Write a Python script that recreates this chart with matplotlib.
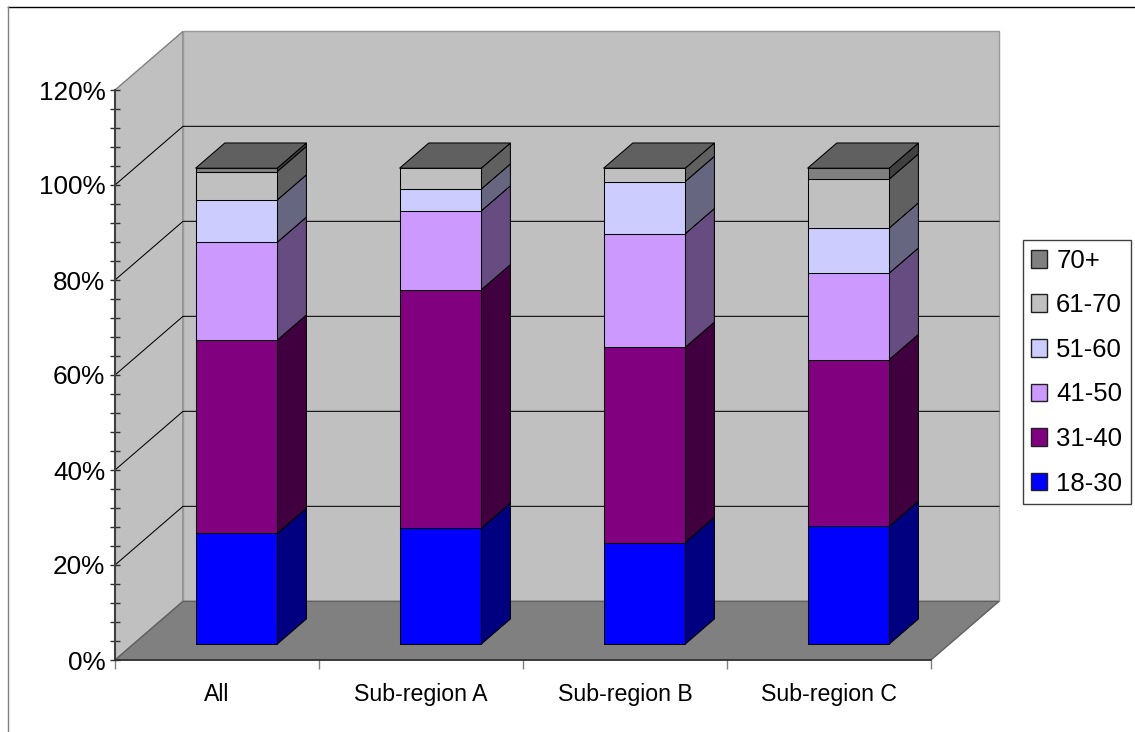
"""Stacked age-band shares per sub-region, drawn as oblique 3D columns."""

import matplotlib
matplotlib.use("Agg")
import matplotlib.pyplot as plt
from matplotlib.lines import Line2D
from matplotlib.patches import Patch

plt.rcParams["font.family"] = ["Liberation Sans", "DejaVu Sans"]

categories = ["All", "Sub-region A", "Sub-region B", "Sub-region C"]
age_bands = ["18-30", "31-40", "41-50", "51-60", "61-70", "70+"]

share_18_30 = [23.3, 24.4, 21.4, 24.8]
share_31_40 = [40.7, 50.2, 41.1, 35.1]
share_41_50 = [20.6, 16.6, 23.9, 18.2]
share_51_60 = [8.9, 4.6, 11.0, 9.5]
share_61_70 = [6.0, 4.4, 2.8, 10.3]
share_70_up = [0.7, 0.0, 0.0, 2.3]
series = [share_18_30, share_31_40, share_41_50, share_51_60, share_61_70, share_70_up]

front_colors = ["#0000ff", "#800080", "#cc99ff", "#ccccff", "#c0c0c0", "#808080"]
side_colors = ["#000080", "#400040", "#664c80", "#666680", "#606060", "#404040"]
top_color = "#606060"

# oblique projection: depth 0..1 shifts a point by this much in data units
DEPTH_X = 1 / 3
DEPTH_Y = 12.35
BAR_WIDTH = 0.4
BAR_NEAR = 0.27
BAR_FAR = 0.70
Y_MAX = 120

W, H = 1135, 732


def project(x, v, depth=0.0):
    return x + depth * DEPTH_X, v + depth * DEPTH_Y


def face(ax, corners, color, edge="black", lw=0.75, zorder=3):
    xs, ys = zip(*[project(*c) for c in corners])
    ax.fill(xs, ys, facecolor=color, edgecolor=edge, linewidth=lw,
            zorder=zorder, clip_on=False)


def draw_walls(ax):
    n = len(categories)
    face(ax, [(0, 0, 0), (0, 0, 1), (0, Y_MAX, 1), (0, Y_MAX, 0)],
         "#c0c0c0", edge="#808080", lw=1, zorder=1)
    face(ax, [(0, 0, 1), (n, 0, 1), (n, Y_MAX, 1), (0, Y_MAX, 1)],
         "#c0c0c0", edge="#999999", lw=1, zorder=1)
    face(ax, [(0, 0, 0), (n, 0, 0), (n, 0, 1), (0, 0, 1)],
         "#808080", edge="#606060", lw=1, zorder=1)
    for v in range(20, Y_MAX, 20):
        xs, ys = zip(project(0, v, 0), project(0, v, 1), project(n, v, 1))
        ax.plot(xs, ys, color="black", lw=0.75, zorder=2, clip_on=False)


def draw_column(ax, i):
    left = i + 0.5 - BAR_WIDTH / 2 + 0.005
    right = left + BAR_WIDTH
    base = 0.0
    for values, front, side in zip(series, front_colors, side_colors):
        top = base + values[i]
        if values[i] > 0:
            face(ax, [(right, base, BAR_NEAR), (right, base, BAR_FAR),
                      (right, top, BAR_FAR), (right, top, BAR_NEAR)], side)
            face(ax, [(left, base, BAR_NEAR), (right, base, BAR_NEAR),
                      (right, top, BAR_NEAR), (left, top, BAR_NEAR)], front)
        base = top
    face(ax, [(left, base, BAR_NEAR), (right, base, BAR_NEAR),
              (right, base, BAR_FAR), (left, base, BAR_FAR)], top_color)


fig = plt.figure(figsize=(W / 100, H / 100), dpi=100)
ax = fig.add_axes([115 / W, (H - 660) / H, 816 / W, 570 / H])
ax.patch.set_visible(False)

draw_walls(ax)
for i in range(len(categories)):
    draw_column(ax, i)

ax.set_xlim(0, len(categories))
ax.set_ylim(0, Y_MAX)

# value axis: major every 20%, minor every 4%
ax.set_yticks(range(0, Y_MAX + 1, 20))
ax.set_yticklabels([f"{v}%" for v in range(0, Y_MAX + 1, 20)], fontsize=18.8)
ax.set_yticks(range(0, Y_MAX + 1, 4), minor=True)
ax.tick_params(axis="y", which="both", direction="inout", length=7.2,
               width=1, color="#303030", pad=3.4)

# category axis: ticks between columns, labels centred on them
ax.set_xticks(range(len(categories) + 1))
ax.set_xticklabels([])
ax.set_xticks([i + 0.5 for i in range(len(categories))], minor=True)
ax.set_xticklabels(categories, minor=True, fontsize=16.7)
ax.tick_params(axis="x", which="major", direction="out", length=6.5,
               width=1, color="#808080")
ax.tick_params(axis="x", which="minor", length=0, pad=16.5)

for name in ("top", "right"):
    ax.spines[name].set_visible(False)
ax.spines["left"].set_color("#404040")
ax.spines["left"].set_linewidth(1.5)
ax.spines["left"].set_zorder(5)
ax.spines["bottom"].set_color("#303030")
ax.spines["bottom"].set_linewidth(1.2)
ax.spines["bottom"].set_zorder(5)

handles = [Patch(facecolor=c, edgecolor="#202020", linewidth=1) for c in front_colors]
legend = fig.legend(
    handles[::-1], age_bands[::-1], loc="lower left",
    bbox_to_anchor=(1023 / W, 1 - 504 / H), bbox_transform=fig.transFigure,
    fontsize=18.5, frameon=True, fancybox=False, framealpha=1,
    edgecolor="#404040", borderaxespad=0, borderpad=0.33,
    handlelength=0.62, handleheight=0.68, handletextpad=0.34,
    labelspacing=0.8,
)
legend.get_frame().set_linewidth(1)

# outer chart frame
fig.add_artist(Line2D([8 / W, 1], [1 - 7 / H, 1 - 7 / H], color="black", lw=1))
fig.add_artist(Line2D([8 / W, 8 / W], [0, 1 - 7 / H], color="#808080", lw=1))

fig.savefig("out.png", dpi=100)
